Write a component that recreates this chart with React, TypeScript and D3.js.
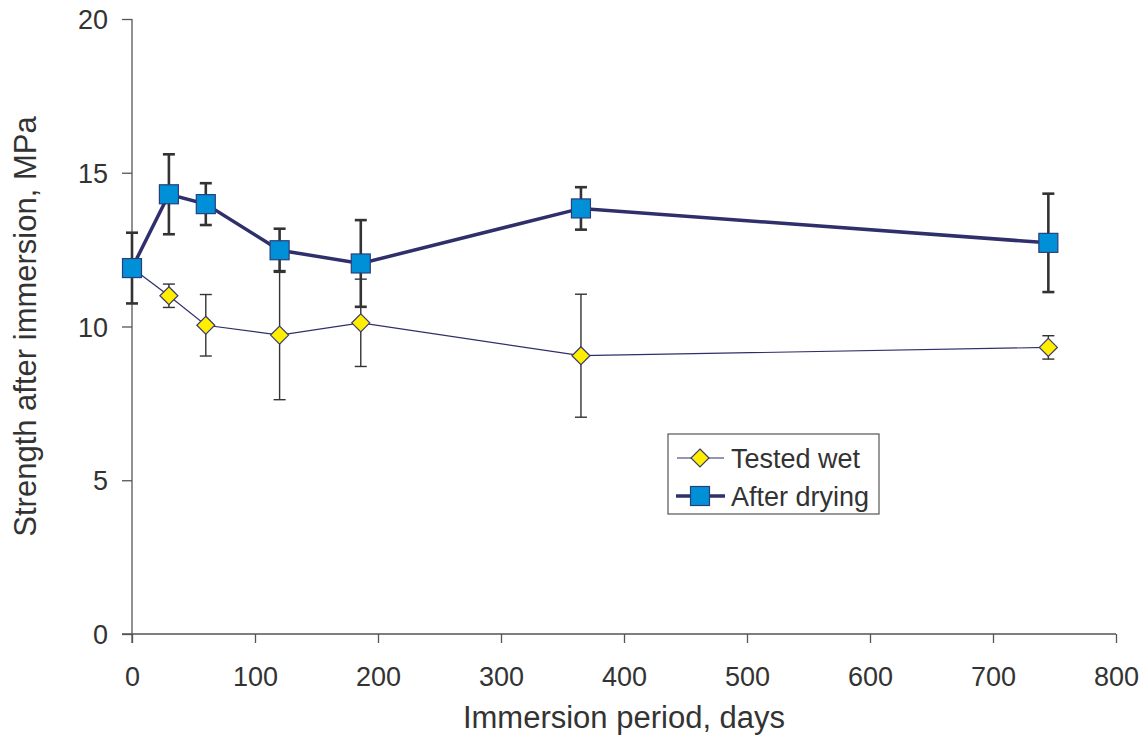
import React from 'react'
import { useEffect, useRef } from 'react'
import * as d3 from 'd3'

// immersion period (days)
const days = [0, 30, 60, 120, 186, 365, 745]
// tested wet: mean and error
const wetMean = [11.9, 11.0, 10.04, 9.72, 10.12, 9.05, 9.32]
const wetErr = [0, 0.38, 1.0, 2.1, 1.42, 2.0, 0.38]
// after drying: mean and error
const dryMean = [11.9, 14.3, 13.98, 12.48, 12.05, 13.84, 12.72]
const dryErr = [1.15, 1.3, 0.68, 0.7, 1.41, 0.69, 1.6]

const xTicks = [0, 100, 200, 300, 400, 500, 600, 700, 800]
const yTicks = [0, 5, 10, 15, 20]

const FONT = '"Liberation Sans", Arial, Helvetica, sans-serif'
const TXT = '#333333'
const NAVY = '#2f2f6b'

const App = () => {
    const svgRef = useRef<SVGSVGElement>(null)

    useEffect(() => {
        const w = 1146
        const h = 738
        const m = { left: 132, right: 30, top: 19, bottom: 104 }
        const svg = d3.select(svgRef.current)
        svg.selectAll('*').remove()
        svg.attr('width', w).attr('height', h)
            .style('position', 'absolute').style('left', 0).style('top', 0)
            .style('background', '#fff')
            .style('font-family', FONT)

        const xScale = d3.scaleLinear().domain([0, 800]).range([m.left, w - m.right])
        const yScale = d3.scaleLinear().domain([0, 20]).range([h - m.bottom, m.top])

        // axes
        const xAxis = d3.axisBottom(xScale).tickValues(xTicks).tickSize(9).tickPadding(24).tickFormat(d => String(d))
        const yAxis = d3.axisLeft(yScale).tickValues(yTicks).tickSize(10).tickPadding(14).tickFormat(d => String(d))

        const gx = svg.append('g').attr('transform', `translate(0, ${yScale(0)})`).call(xAxis)
        const gy = svg.append('g').attr('transform', `translate(${m.left}, 0)`).call(yAxis)
        ;[gx, gy].forEach(g => {
            g.select('.domain').attr('stroke', '#555').attr('stroke-width', 1.3)
            g.selectAll('.tick line').attr('stroke', '#555').attr('stroke-width', 1.3)
            g.selectAll('.tick text').attr('fill', TXT).style('font-size', '27px').style('font-family', FONT)
        })
        gy.select('.domain').attr('d', `M0,${yScale(20)}V${yScale(0) + 9}`)
        gx.select('.domain').attr('d', `M${m.left - 10},0H${xScale(800)}`)
        gy.selectAll('.tick text').attr('dy', '0.36em')

        // axis titles
        svg.append('text')
            .attr('x', (xScale(0) + xScale(800)) / 2)
            .attr('y', 728)
            .attr('text-anchor', 'middle')
            .attr('fill', TXT)
            .style('font-size', '31px')
            .text('Immersion period, days')
        svg.append('text')
            .attr('transform', `translate(36, ${(yScale(0) + yScale(20)) / 2}) rotate(-90)`)
            .attr('text-anchor', 'middle')
            .attr('fill', TXT)
            .style('font-size', '31px')
            .text('Strength after immersion, MPa')

        const line = d3.line<number>()
            .x((d, i) => xScale(days[i]))
            .y(d => yScale(d))

        // error bars
        const drawErr = (mean: number[], err: number[], sw: number, cap: number) => {
            const g = svg.append('g')
            mean.forEach((v, i) => {
                if (err[i] === 0) return
                const x = xScale(days[i])
                const y1 = yScale(v + err[i])
                const y2 = yScale(v - err[i])
                g.append('line').attr('x1', x).attr('x2', x).attr('y1', y1).attr('y2', y2)
                    .attr('stroke', '#333').attr('stroke-width', sw)
                g.append('line').attr('x1', x - cap).attr('x2', x + cap).attr('y1', y1).attr('y2', y1)
                    .attr('stroke', '#333').attr('stroke-width', sw)
                g.append('line').attr('x1', x - cap).attr('x2', x + cap).attr('y1', y2).attr('y2', y2)
                    .attr('stroke', '#333').attr('stroke-width', sw)
            })
        }

        // tested wet
        drawErr(wetMean, wetErr, 1.4, 6)
        svg.append('path').datum(wetMean).attr('d', line)
            .attr('fill', 'none').attr('stroke', NAVY).attr('stroke-width', 1.2)

        // after drying
        drawErr(dryMean, dryErr, 2.6, 6)
        svg.append('path').datum(dryMean).attr('d', line)
            .attr('fill', 'none').attr('stroke', NAVY).attr('stroke-width', 3.5)

        const diamond = (g: any, x: number, y: number) => {
            const r = 9
            g.append('path').attr('d', `M${x},${y - r}L${x + r},${y}L${x},${y + r}L${x - r},${y}Z`)
                .attr('fill', '#ffee00').attr('stroke', '#3a3a6e').attr('stroke-width', 1.2)
        }
        const square = (g: any, x: number, y: number) => {
            const s = 19
            g.append('rect').attr('x', x - s / 2).attr('y', y - s / 2).attr('width', s).attr('height', s)
                .attr('fill', '#0090d8').attr('stroke', '#2a3f7a').attr('stroke-width', 1.2)
        }

        wetMean.forEach((v, i) => diamond(svg, xScale(days[i]), yScale(v)))
        dryMean.forEach((v, i) => square(svg, xScale(days[i]), yScale(v)))

        // legend
        const lg = svg.append('g').attr('transform', 'translate(668, 434)')
        lg.append('rect').attr('width', 211).attr('height', 80)
            .attr('fill', '#fff').attr('stroke', '#555').attr('stroke-width', 1.2)
        lg.append('line').attr('x1', 9).attr('x2', 56).attr('y1', 24).attr('y2', 24)
            .attr('stroke', NAVY).attr('stroke-width', 1.2)
        diamond(lg, 32, 24)
        lg.append('line').attr('x1', 8).attr('x2', 57).attr('y1', 62).attr('y2', 62)
            .attr('stroke', NAVY).attr('stroke-width', 3.5)
        square(lg, 32, 62)
        lg.append('text').attr('x', 63).attr('y', 24).attr('dy', '0.36em')
            .attr('fill', TXT).style('font-size', '27px').text('Tested wet')
        lg.append('text').attr('x', 63).attr('y', 62).attr('dy', '0.36em')
            .attr('fill', TXT).style('font-size', '27px').text('After drying')
    }, [])

    return (
        <div>
            <svg ref={svgRef}></svg>
        </div>
    )
}

export default App
